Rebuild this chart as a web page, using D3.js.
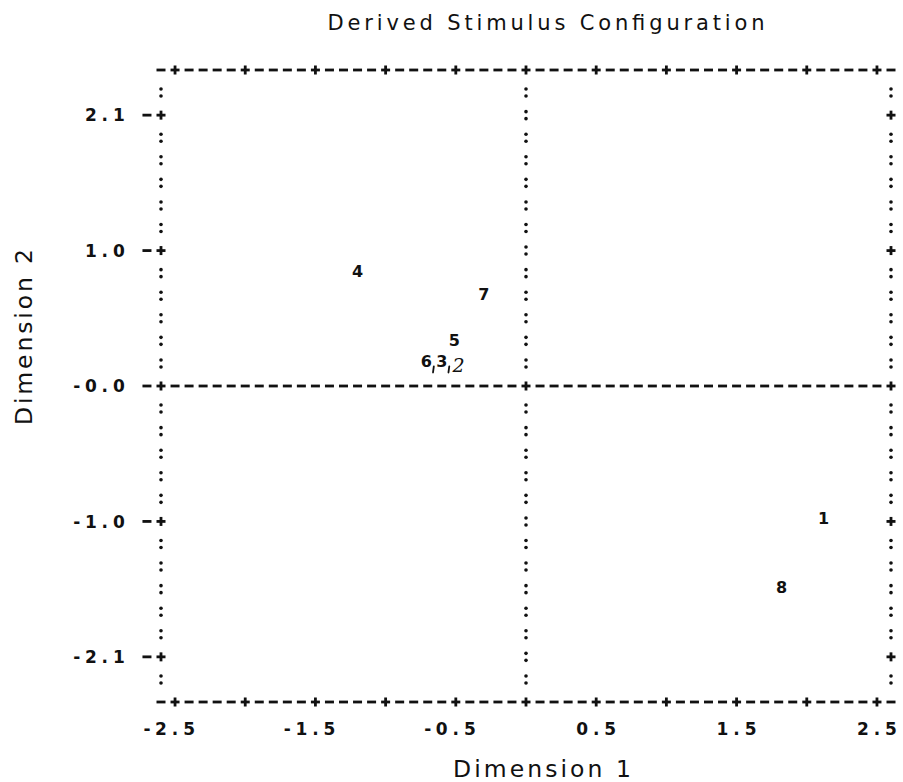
<!DOCTYPE html>
<html><head><meta charset="utf-8">
<script src="https://cdn.jsdelivr.net/npm/d3@7"></script>
<style>body{margin:0;background:#fff} svg{display:block}</style>
</head><body>
<script>
// ---- data ----
const chartTitle = "Derived Stimulus Configuration";
const xTitle = "Dimension 1";
const yTitle = "Dimension 2";
const pointLabels = ["1", "2", "3", "4", "5", "6", "7", "8"];
const dim1 = [2.12, -0.48, -0.60, -1.20, -0.51, -0.71, -0.30, 1.82];
const dim2 = [-1.02, 0.16, 0.19, 0.89, 0.36, 0.19, 0.71, -1.56];
const hasComma = [false, false, true, false, false, true, false, false];
const xTickValues = [-2.5, -1.5, -0.5, 0.5, 1.5, 2.5];
const xTickLabels = ["-2.5", "-1.5", "-0.5", "0.5", "1.5", "2.5"];
const yTickValues = [2.1, 1.05, 0, -1.05, -2.1];
const yTickLabels = ["2.1", "1.0", "-0.0", "-1.0", "-2.1"];

// ---- layout ----
const W = 903, H = 782;
const colStep = 0.1, rowStep = 0.175;
const x = d3.scaleLinear().domain([-2.6, 2.6]).range([161, 891]);
const y = d3.scaleLinear().domain([2.45, -2.45]).range([70, 702]);

const svg = d3.select("body").append("svg").attr("width", W).attr("height", H);
const ink = "#111";

const cols = d3.range(53).map(i => +(-2.6 + i * colStep).toFixed(2));
const rows = d3.range(29).map(i => +(2.45 - i * rowStep).toFixed(3));
const xMinorTicks = d3.range(11).map(i => +(-2.5 + i * 0.5).toFixed(2));
const isXTick = c => xMinorTicks.some(t => Math.abs(t - c) < 1e-6);
const isYTick = r => yTickValues.some(t => Math.abs(t - r) < 1e-6);
const hRows = [2.45, 0, -2.45];
const vCols = [-2.6, 0, 2.6];

const g = svg.append("g").attr("fill", ink);
function dash(cx, cy) { g.append("rect").attr("x", cx - 4.5).attr("y", cy - 1.4).attr("width", 9).attr("height", 2.8); }
function plus(cx, cy) {
  g.append("rect").attr("x", cx - 4.5).attr("y", cy - 1.4).attr("width", 9).attr("height", 2.8);
  g.append("rect").attr("x", cx - 1.4).attr("y", cy - 4.5).attr("width", 2.8).attr("height", 9);
}
function colon(cx, cy) {
  g.append("circle").attr("cx", cx).attr("cy", cy - 3.5).attr("r", 1.8);
  g.append("circle").attr("cx", cx).attr("cy", cy + 3.5).attr("r", 1.8);
}

// horizontal lines
hRows.forEach(r => {
  cols.forEach(c => {
    const px = x(c), py = y(r);
    if (r !== 0) {
      if (isXTick(c)) plus(px, py); else dash(px, py);
    } else {
      if (Math.abs(c) === 2.6 || c === 0) plus(px, py); else dash(px, py);
    }
  });
});
// vertical lines
rows.forEach(r => {
  if (hRows.some(h => Math.abs(h - r) < 1e-6)) return;
  vCols.forEach(c => {
    const px = x(c), py = y(r);
    if (c !== 0 && isYTick(r)) plus(px, py); else colon(px, py);
  });
});
// left tick dashes "-+"
yTickValues.forEach(v => dash(x(-2.7), y(v)));

// tick labels, one glyph per character cell
const tickFont = "'DejaVu Sans', sans-serif";
yTickValues.forEach((v, k) => {
  const s = yTickLabels[k], n = s.length;
  s.split("").forEach((ch, i) => {
    svg.append("text").attr("x", x(-2.9 - (n - 1 - i) * colStep)).attr("y", y(v) + 6.3)
      .attr("text-anchor", "middle").attr("font-family", tickFont).attr("font-weight", "bold")
      .attr("font-size", 17).attr("fill", ink).text(ch);
  });
});
xTickValues.forEach((v, k) => {
  const s = xTickLabels[k], p = s.indexOf(".");
  s.split("").forEach((ch, i) => {
    svg.append("text").attr("x", x(v + (i - p) * colStep)).attr("y", 735)
      .attr("text-anchor", "middle").attr("font-family", tickFont).attr("font-weight", "bold")
      .attr("font-size", 17).attr("fill", ink).text(ch);
  });
});

// points
pointLabels.forEach((lab, i) => {
  const px = x(dim1[i]), py = y(dim2[i]);
  const hand = lab === "2";
  svg.append("text").attr("x", px).attr("y", py + (hand ? 7 : 6))
    .attr("text-anchor", "middle").attr("font-family", hand ? "'DejaVu Serif', serif" : tickFont)
    .attr("font-weight", hand ? "normal" : "bold").attr("font-style", hand ? "italic" : "normal")
    .attr("font-size", hand ? 19 : 16).attr("fill", ink).text(lab);
  if (hasComma[i]) {
    // small hand-drawn comma after the digit
    svg.append("path").attr("d", `M${px + 7.5},${py + 5} l-0.8,6`)
      .attr("stroke", ink).attr("stroke-width", 1.8).attr("stroke-linecap", "round").attr("fill", "none");
  }
});

// titles
const titleFont = "'DejaVu Sans', sans-serif";
svg.append("text").attr("x", 546).attr("y", 30).attr("text-anchor", "middle")
  .attr("font-family", titleFont).attr("font-size", 21).attr("fill", ink)
  .attr("textLength", 437).attr("lengthAdjust", "spacing").text(chartTitle);
svg.append("text").attr("x", 542).attr("y", 777).attr("text-anchor", "middle")
  .attr("font-family", titleFont).attr("font-size", 23.5).attr("fill", ink)
  .attr("textLength", 178).attr("lengthAdjust", "spacing").text(xTitle);
svg.append("text").attr("transform", "translate(32,337) rotate(-90)").attr("text-anchor", "middle")
  .attr("font-family", titleFont).attr("font-size", 23.5).attr("fill", ink)
  .attr("textLength", 176).attr("lengthAdjust", "spacing").text(yTitle);
</script>
</body></html>
